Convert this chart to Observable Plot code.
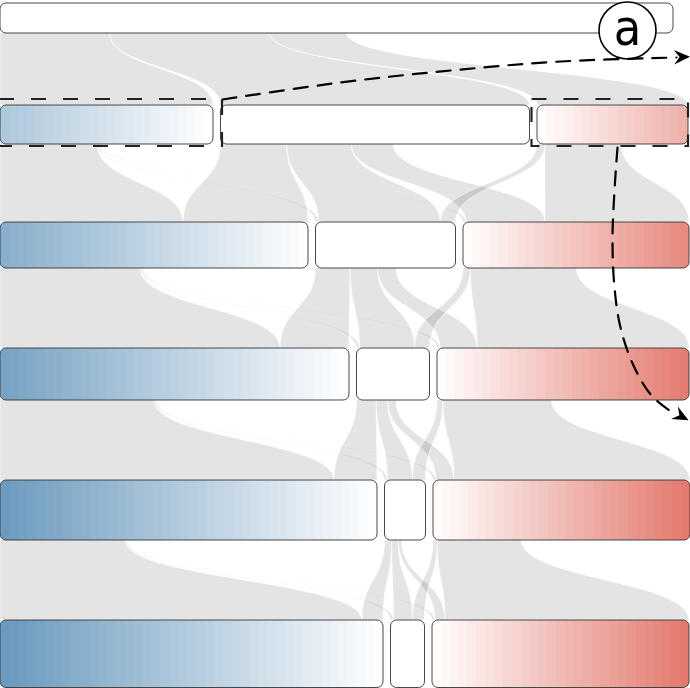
<!DOCTYPE html>
<html>
<head>
<meta charset="utf-8">
<script src="https://cdn.jsdelivr.net/npm/d3@7"></script>
<script src="https://cdn.jsdelivr.net/npm/@observablehq/plot@0.6"></script>
<style>
  html, body { margin: 0; padding: 0; background: #fff; }
  #chart svg { display: block; }
</style>
</head>
<body>
<div id="chart"></div>
<script>
// ---------------- data ----------------
const categories = ["negative", "neutral", "positive"];
const levelNames = ["L0", "L1", "L2", "L3", "L4", "L5"];
const rootTotal = 673;
const negativeCounts = [213, 308, 349, 377, 383];
const neutralCounts  = [309, 140, 73, 41, 34];
const positiveCounts = [151, 226, 252, 257, 257];
// flows from the root node to level 1 (negative, neutral, positive)
const rootFlows = [213, 309, 151];
// transition matrices [source][target], rows/cols: negative, neutral, positive
const flows12 = [[183, 3, 3], [125, 122, 79], [0, 15, 144]];
const flows23 = [[280, 3, 3], [69, 55, 37], [0, 15, 212]];
const flows34 = [[334, 3, 3], [43, 25, 18], [0, 13, 236]];
const flows45 = [[362, 3, 3], [21, 19, 10], [0, 12, 244]];
// share of a node's width used by its outgoing flows, per level
const outflowShare = [0.515, 0.53, 0.5, 0.46, 0.345];

// ---------------- layout ----------------
const layout = {
  width: 690, height: 688, gap: 7.5, radius: 6,
  rowTop:    [3, 105, 222, 348, 480, 620],
  rowBottom: [33, 144, 268, 400, 540, 687.5]
};

// annotation geometry
const labelMarks = [{x: 627, y: 30, text: "a"}];
const arrowLines = [
  {path: "up", x: 222, y: 99}, {path: "up", x: 340, y: 82}, {path: "up", x: 450, y: 70},
  {path: "up", x: 560, y: 61}, {path: "up", x: 676, y: 57},
  {path: "down", x: 617, y: 147}, {path: "down", x: 614, y: 190}, {path: "down", x: 612, y: 240},
  {path: "down", x: 614, y: 287}, {path: "down", x: 620, y: 327}, {path: "down", x: 633, y: 365},
  {path: "down", x: 651, y: 395}, {path: "down", x: 672, y: 412}
];
const arrowHeads = [{x: 681.5, y: 56.5, angle: -2}, {x: 681, y: 416, angle: 28}];

// ---------------- derived structures ----------------
const color = d3.scaleLinear().domain([-385, 0, 260]).range(["#6898bd", "#ffffff", "#e3766a"]);

const nodes = [{level: 0, cat: "root", ci: -1, x0: 0, x1: rootTotal, value: rootTotal}];
for (let l = 1; l <= 5; ++l) {
  const vals = [negativeCounts[l - 1], neutralCounts[l - 1], positiveCounts[l - 1]];
  let x = 0;
  vals.forEach((v, i) => {
    nodes.push({level: l, cat: categories[i], ci: i, x0: x, x1: x + v, value: v,
                gid: i === 1 ? null : `grad-${l}-${i}`});
    x += v + layout.gap;
  });
}
nodes.forEach(n => { n.y0 = layout.rowTop[n.level]; n.y1 = layout.rowBottom[n.level]; });
const nodeAt = (l, i) => nodes.find(n => n.level === l && n.ci === i);

const flowRows = [];
let fid = 0;
function pushFlow(sa, sb, ta, tb, t) {
  const id = fid++;
  flowRows.push({id, y: layout.rowBottom[t], xa: sa, xb: sb});
  flowRows.push({id, y: layout.rowTop[t + 1], xa: ta, xb: tb});
}
{
  let s = 0;
  rootFlows.forEach((v, j) => {
    const w = v * outflowShare[0];
    const tn = nodeAt(1, j);
    pushFlow(s, s + w, tn.x0, tn.x0 + v, 0);
    s += w;
  });
}
[flows12, flows23, flows34, flows45].forEach((M, k) => {
  const t = k + 1;
  const srcPos = [0, 1, 2].map(i => nodeAt(t, i).x0);
  const tgtPos = [0, 1, 2].map(j => nodeAt(t + 1, j).x0);
  for (let i = 0; i < 3; ++i) {
    for (let j = 0; j < 3; ++j) {
      const v = M[i][j];
      if (!v) continue;
      const w = v * outflowShare[t];
      pushFlow(srcPos[i], srcPos[i] + w, tgtPos[j], tgtPos[j] + v, t);
      srcPos[i] += w;
      tgtPos[j] += v;
    }
  }
});

// dashed boxes around the two level-1 extreme nodes
const boxes = [nodeAt(1, 0), nodeAt(1, 2)].map(n => ({
  x1: n.x0 - (n.ci === 0 ? 1 : 5.5), x2: n.x1 + (n.ci === 0 ? 9 : 0),
  y1: n.y0 - 6, y2: n.y1 + 2
}));

// gradient definitions (finely banded, like the reference)
const defsMark = () => {
  const defs = d3.create("svg:defs");
  nodes.forEach(n => {
    if (!n.gid) return;
    const g = defs.append("linearGradient").attr("id", n.gid)
      .attr("x1", 0).attr("x2", 1).attr("y1", 0).attr("y2", 0);
    const N = Math.max(8, Math.round(n.value / 9));
    for (let k = 0; k < N; ++k) {
      const f = (k + 0.5) / N;
      const d = n.ci === 0 ? -(1 - f) * n.value : f * n.value;
      const c = color(d);
      g.append("stop").attr("offset", k / N).attr("stop-color", c);
      g.append("stop").attr("offset", (k + 1) / N).attr("stop-color", c);
    }
  });
  return defs.node();
};

function arrowSymbol(angleDeg) {
  const a = angleDeg * Math.PI / 180, ca = Math.cos(a), sa = Math.sin(a);
  return {
    draw(ctx, size) {
      const s = Math.sqrt(size / Math.PI);
      const pts = [[s, 0], [-s, -0.9 * s], [-0.3 * s, 0], [-s, 0.9 * s]]
        .map(([px, py]) => [px * ca - py * sa, px * sa + py * ca]);
      ctx.moveTo(pts[0][0], pts[0][1]);
      for (let i = 1; i < pts.length; ++i) ctx.lineTo(pts[i][0], pts[i][1]);
      ctx.closePath();
    }
  };
}

const nodeMarks = nodes.map(n => Plot.rect([n], {
  x1: "x0", x2: "x1", y1: "y0", y2: "y1",
  fill: n.gid ? `url(#${n.gid})` : "white",
  stroke: "#333", strokeWidth: 0.9, rx: layout.radius
}));

const chart = Plot.plot({
  width: layout.width,
  height: layout.height,
  margin: 0,
  style: {background: "white"},
  x: {domain: [0, layout.width], range: [0, layout.width], axis: null},
  y: {domain: [0, layout.height], range: [0, layout.height], axis: null},
  marks: [
    defsMark,
    Plot.areaX(flowRows, {
      x1: "xa", x2: "xb", y: "y", z: "id", curve: "bump-y",
      fill: "black", fillOpacity: 0.105, stroke: "white", strokeWidth: 0.6
    }),
    ...nodeMarks,
    Plot.rect(boxes, {
      x1: "x1", x2: "x2", y1: "y1", y2: "y2",
      fill: "none", stroke: "#222", strokeWidth: 2.2, strokeDasharray: "15,17"
    }),
    Plot.dot(labelMarks, {x: "x", y: "y", r: 28.5, fill: "white", stroke: "black", strokeWidth: 1.6}),
    Plot.text(labelMarks, {
      x: "x", y: "y", text: "text", fontSize: 50, dy: -2,
      fontFamily: "'Liberation Sans Narrow', 'DejaVu Sans Condensed', 'Liberation Sans', sans-serif",
      fill: "black", textAnchor: "middle", lineAnchor: "middle"
    }),
    Plot.line(arrowLines, {
      x: "x", y: "y", z: "path", curve: "catmull-rom",
      stroke: "black", strokeWidth: 2.2, strokeDasharray: "14,10"
    }),
    Plot.dot([arrowHeads[0]], {x: "x", y: "y", r: 8, symbol: arrowSymbol(arrowHeads[0].angle), fill: "black", stroke: "none"}),
    Plot.dot([arrowHeads[1]], {x: "x", y: "y", r: 8, symbol: arrowSymbol(arrowHeads[1].angle), fill: "black", stroke: "none"})
  ]
});
document.getElementById("chart").appendChild(chart);
</script>
</body>
</html>
